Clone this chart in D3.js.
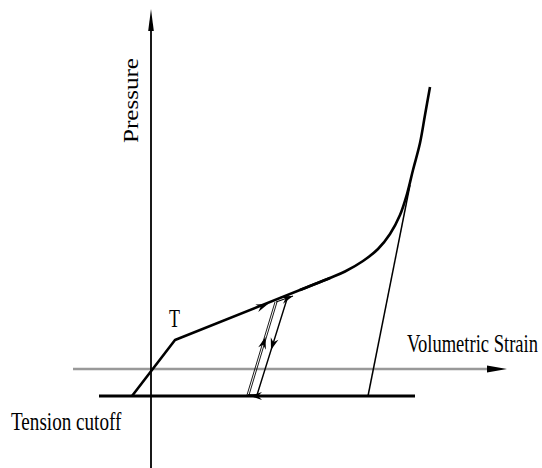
<!DOCTYPE html>
<html>
<head>
<meta charset="utf-8">
<script src="https://cdn.jsdelivr.net/npm/d3@7"></script>
<style>
  html, body { margin: 0; padding: 0; background: #fff; }
  svg { display: block; }
  text { font-family: "Liberation Serif", "Times New Roman", serif; fill: #000; }
</style>
</head>
<body>
<svg id="chart" width="542" height="468"></svg>
<script>
// ---- data (schematic units: strain, pressure) ----
const linearStrain   = [-0.38, 0.48, 3.58];
const linearPressure = [-0.54, 0.58, 1.82];

const curveStrain   = [2.98, 3.58, 3.88, 4.24, 4.54, 4.78, 4.98, 5.12, 5.24, 5.38, 5.48, 5.58];
const curvePressure = [1.58, 1.82, 1.95, 2.16, 2.40, 2.70, 3.08, 3.50, 3.98, 4.52, 5.08, 5.64];

const unloadStrain   = [5.18, 4.34];
const unloadPressure = [3.68, -0.54];

const cutoffStrain   = [-1.04, 5.28];
const cutoffPressure = [-0.54, -0.54];

const reloadStrain   = [1.94, 2.50, 2.84];
const reloadPressure = [-0.52, 1.34, 1.46];
const unreloadStrain   = [2.72, 2.12, 1.94];
const unreloadPressure = [1.40, -0.52, -0.52];

// arrow tips and their direction (tip point, point behind)
const arrowTipStrain   = [2.34, 2.84, 2.29, 2.40, 1.98];
const arrowTipPressure = [1.30, 1.46, 0.64, 0.38, -0.54];
const arrowFromStrain   = [0.48, 2.50, 1.94, 2.72, 2.40];
const arrowFromPressure = [0.58, 1.34, -0.52, 1.40, -0.54];

const xAxisStrain = [-1.56, 7.12];
const yAxisPressure = [-1.98, 7.20];

const labels = ["Pressure", "Volumetric Strain", "Tension cutoff", "T"];

// ---- scales ----
const x = d3.scaleLinear().domain([0, 7]).range([151, 501]);
const y = d3.scaleLinear().domain([0, 6]).range([369, 69]);

const svg = d3.select("#chart");
const zip = (a, b) => a.map((v, i) => [v, b[i]]);
const lineLin = d3.line().x(d => x(d[0])).y(d => y(d[1]));
const lineCurve = d3.line().x(d => x(d[0])).y(d => y(d[1])).curve(d3.curveCatmullRom.alpha(0.5));

// horizontal (gray) axis
svg.append("line")
  .attr("x1", x(xAxisStrain[0])).attr("x2", x(xAxisStrain[1]) - 12)
  .attr("y1", y(0)).attr("y2", y(0))
  .attr("stroke", "#999").attr("stroke-width", 2.5);
{
  const tx = x(xAxisStrain[1]), ty = y(0);
  svg.append("path")
    .attr("d", `M${tx},${ty} L${tx-20},${ty-3.5} L${tx-20},${ty+3.5} Z`)
    .attr("fill", "#000");
}

// vertical axis
svg.append("line")
  .attr("x1", x(0)).attr("x2", x(0))
  .attr("y1", y(yAxisPressure[0])).attr("y2", y(yAxisPressure[1]) + 10)
  .attr("stroke", "#000").attr("stroke-width", 1.8);
{
  const tx = x(0), ty = y(yAxisPressure[1]);
  svg.append("path")
    .attr("d", `M${tx},${ty} L${tx-2.8},${ty+22} L${tx+2.8},${ty+22} Z`)
    .attr("fill", "#000");
}

// tension cutoff line
svg.append("path").attr("d", lineLin(zip(cutoffStrain, cutoffPressure)))
  .attr("fill", "none").attr("stroke", "#000").attr("stroke-width", 3);

// loading path (linear part + curve)
svg.append("path").attr("d", lineLin(zip(linearStrain, linearPressure)))
  .attr("fill", "none").attr("stroke", "#000").attr("stroke-width", 2.6)
  .attr("stroke-linejoin", "round");
svg.append("path").attr("d", lineCurve(zip(curveStrain, curvePressure)))
  .attr("fill", "none").attr("stroke", "#000").attr("stroke-width", 2.6);

// unloading line
svg.append("path").attr("d", lineLin(zip(unloadStrain, unloadPressure)))
  .attr("fill", "none").attr("stroke", "#000").attr("stroke-width", 1.5);

// reload (double thin) and unload
[-1, 1].forEach(off => {
  svg.append("path").attr("d", lineLin(zip(reloadStrain.slice(0, 2), reloadPressure.slice(0, 2))))
    .attr("transform", `translate(${off},0)`)
    .attr("fill", "none").attr("stroke", "#000").attr("stroke-width", 0.9);
});
svg.append("path").attr("d", lineLin(zip(reloadStrain.slice(1), reloadPressure.slice(1))))
  .attr("fill", "none").attr("stroke", "#000").attr("stroke-width", 1.1);
svg.append("path").attr("d", lineLin(zip(unreloadStrain, unreloadPressure)))
  .attr("fill", "none").attr("stroke", "#000").attr("stroke-width", 1.4);

// arrowheads
arrowTipStrain.forEach((s, i) => {
  const tx = x(s), ty = y(arrowTipPressure[i]);
  const fx = x(arrowFromStrain[i]), fy = y(arrowFromPressure[i]);
  const ang = Math.atan2(ty - fy, tx - fx) * 180 / Math.PI;
  svg.append("path")
    .attr("d", "M0,0 L-12,-4 L-8,0 L-12,4 Z")
    .attr("transform", `translate(${tx},${ty}) rotate(${ang})`)
    .attr("fill", "#000");
});

// labels (horizontally condensed serif, as in the reference)
svg.append("text")
  .attr("transform", `translate(138,100.5) scale(0.8,1) rotate(-90)`)
  .attr("text-anchor", "middle")
  .attr("font-size", 25)
  .attr("textLength", 85).attr("lengthAdjust", "spacingAndGlyphs")
  .text(labels[0]);

svg.append("text")
  .attr("transform", `translate(407,352) scale(0.742,1)`)
  .attr("font-size", 25)
  .text(labels[1]);

svg.append("text")
  .attr("transform", `translate(11,430) scale(0.765,1)`)
  .attr("font-size", 25)
  .text(labels[2]);

svg.append("text")
  .attr("transform", `translate(169,327) scale(0.72,1)`)
  .attr("font-size", 25)
  .text(labels[3]);
</script>
</body>
</html>
